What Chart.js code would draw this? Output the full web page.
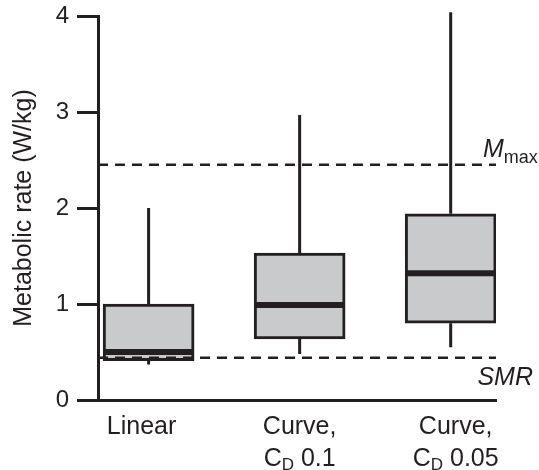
<!DOCTYPE html>
<html>
<head>
<meta charset="utf-8">
<script src="https://cdn.jsdelivr.net/npm/chart.js@4.4.0/dist/chart.umd.min.js"></script>
<style>
  html, body { margin: 0; padding: 0; background: #fff; }
  #wrap { width: 539px; height: 470px; }
</style>
</head>
<body>
<div id="wrap"><canvas id="boxChart"></canvas></div>
<script>
// values (W/kg)
const categories = ["Linear", "Curve,", "Curve,"];
const dragCoef = [null, "0.1", "0.05"];
const whiskerLow = [0.37, 0.48, 0.55];
const q1 = [0.41, 0.635, 0.80];
const median = [0.50, 0.99, 1.32];
const q3 = [1.00, 1.53, 1.94];
const whiskerHigh = [2.00, 2.97, 4.04];
const smr = 0.44;
const mmax = 2.45;
const yTicks = [0, 1, 2, 3, 4];

const ink = "#231f20";
const fontFamily = '"Liberation Sans", Arial, sans-serif';
const xMin = 0.665, xMax = 3.3;
const halfBox = 0.29;
const labelShift = [-7, 0, 5]; // px nudges, labels aren't exactly centred in the original

let boxes = categories.map((c, i) => ({ x: i + 1, y: [q1[i], q3[i]] }));

let datasets = [];

// medians on top
categories.forEach((c, i) => {
  datasets.push({
    type: "line",
    data: [{ x: i + 1 - halfBox, y: median[i] }, { x: i + 1 + halfBox, y: median[i] }],
    borderColor: ink,
    borderWidth: 6,
    pointRadius: 0,
    order: 0,
  });
});

// SMR and Mmax dashed lines
[smr, mmax].forEach((v) => {
  datasets.push({
    type: "line",
    data: [{ x: xMin, y: v }, { x: xMax, y: v }],
    borderColor: ink,
    borderWidth: 2.5,
    borderDash: [10, 7],
    pointRadius: 0,
    order: 1,
  });
});

datasets.push({
  type: "bar",
  data: boxes,
  backgroundColor: "#c9cacc",
  borderColor: ink,
  borderWidth: 3,
  borderSkipped: false,
  barThickness: 91,
  order: 2,
});

// whiskers
categories.forEach((c, i) => {
  datasets.push({
    type: "line",
    data: [
      { x: i + 1, y: whiskerLow[i] }, { x: i + 1, y: q1[i] },
      { x: i + 1, y: null },
      { x: i + 1, y: q3[i] }, { x: i + 1, y: whiskerHigh[i] },
    ],
    borderColor: ink,
    borderWidth: 3,
    pointRadius: 0,
    spanGaps: false,
    clip: false,
    order: 3,
  });
});

// category labels, C_D subscript and the Mmax / SMR tags
const labelPlugin = {
  id: "labels",
  afterDraw(chart) {
    let ctx = chart.ctx;
    let xs = chart.scales.x;
    let ys = chart.scales.y;
    let area = chart.chartArea;
    ctx.save();
    ctx.fillStyle = ink;
    ctx.textBaseline = "alphabetic";

    categories.forEach((c, i) => {
      let cx = xs.getPixelForValue(i + 1) + labelShift[i];
      ctx.font = "25px " + fontFamily;
      ctx.textAlign = "center";
      ctx.fillText(c, cx, area.bottom + 34);
      if (dragCoef[i]) {
        let rest = " " + dragCoef[i];
        ctx.font = "25px " + fontFamily;
        let wC = ctx.measureText("C").width;
        let wR = ctx.measureText(rest).width;
        ctx.font = "17px " + fontFamily;
        let wD = ctx.measureText("D").width;
        let x0 = cx - (wC + wD + wR) / 2;
        let base = area.bottom + 66;
        ctx.textAlign = "left";
        ctx.font = "25px " + fontFamily;
        ctx.fillText("C", x0, base);
        ctx.font = "17px " + fontFamily;
        ctx.fillText("D", x0 + wC, base + 4);
        ctx.font = "25px " + fontFamily;
        ctx.fillText(rest, x0 + wC + wD, base);
      }
    });

    // M_max
    let ym = ys.getPixelForValue(mmax);
    ctx.textAlign = "left";
    ctx.font = "italic 25px " + fontFamily;
    let mx = area.right - 13;
    ctx.fillText("M", mx, ym - 8);
    let wM = ctx.measureText("M").width;
    ctx.font = "18px " + fontFamily;
    ctx.fillText("max", mx + wM, ym - 2);

    // SMR
    let ySmr = ys.getPixelForValue(smr);
    ctx.font = "italic 25px " + fontFamily;
    ctx.textAlign = "right";
    ctx.fillText("SMR", 533, ySmr + 27);
    ctx.restore();
  },
};

new Chart(document.getElementById("boxChart"), {
  type: "bar",
  data: { datasets: datasets },
  plugins: [labelPlugin],
  options: {
    responsive: true,
    maintainAspectRatio: false,
    animation: false,
    layout: { padding: { top: 16, right: 43, bottom: 0, left: 0 } },
    plugins: { legend: { display: false }, tooltip: { enabled: false } },
    scales: {
      x: {
        type: "linear",
        min: xMin,
        max: xMax,
        offset: false,
        grid: { display: false, offset: false },
        ticks: { display: false },
        border: { display: true, color: ink, width: 3 },
        afterFit(scale) {
          scale.height = 70;
          scale.paddingLeft = 0;
          scale.paddingRight = 0;
        },
      },
      y: {
        min: 0,
        max: 4,
        afterBuildTicks(scale) { scale.ticks = yTicks.map((v) => ({ value: v })); },
        grid: {
          drawOnChartArea: false,
          drawTicks: true,
          tickLength: 21,
          tickColor: ink,
          tickWidth: 3,
        },
        border: { display: true, color: ink, width: 3 },
        ticks: {
          color: ink,
          padding: 8,
          font: { family: fontFamily, size: 24 },
        },
        title: {
          display: true,
          text: "Metabolic rate (W/kg)",
          color: ink,
          padding: { top: 9, bottom: 0 },
          font: { family: fontFamily, size: 25 },
        },
        afterFit(scale) {
          scale.width = 98;
          scale.paddingTop = 0;
          scale.paddingBottom = 0;
        },
      },
    },
  },
});
</script>
</body>
</html>
